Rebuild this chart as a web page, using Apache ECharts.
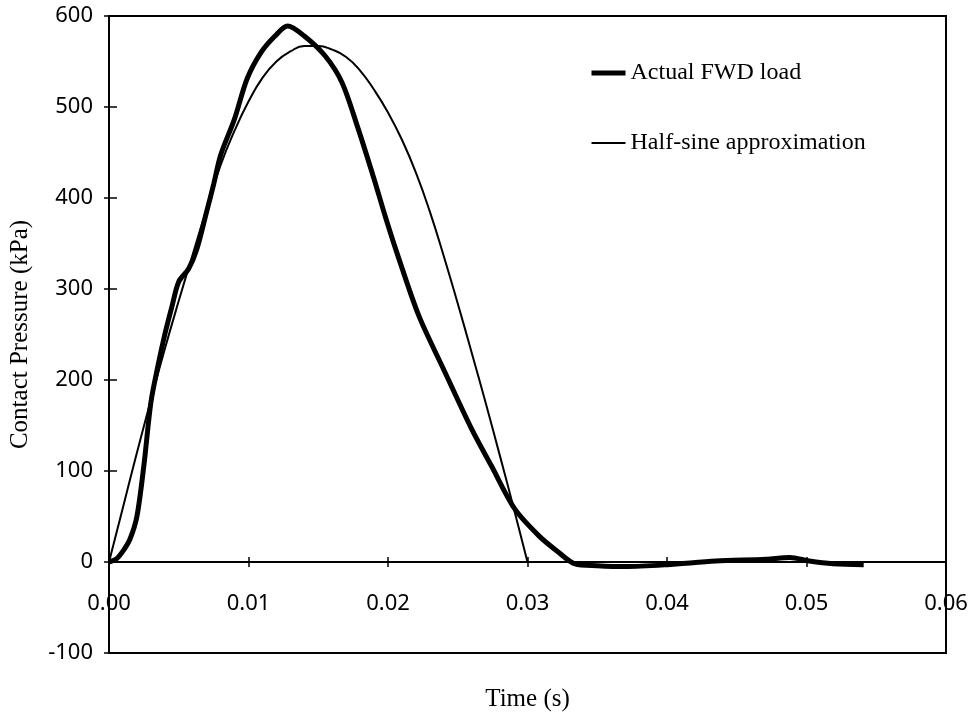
<!DOCTYPE html>
<html>
<head>
<meta charset="utf-8">
<script src="https://cdn.jsdelivr.net/npm/echarts@6/dist/echarts.min.js"></script>
<style>
  html, body { margin: 0; padding: 0; background: #fff; }
  #main { width: 976px; height: 715px; }
</style>
</head>
<body>
<div id="main"></div>
<script>
var myChart = echarts.init(document.getElementById('main'));

// actual FWD load pulse
var fwdTime = [0, 0.0005, 0.001, 0.0015, 0.002, 0.0025, 0.003, 0.0035, 0.004, 0.0045, 0.005, 0.0057, 0.0063, 0.007, 0.0075, 0.008,
  0.009, 0.0099, 0.0109, 0.0119, 0.0128, 0.014, 0.0155, 0.0167, 0.0178, 0.019, 0.0198, 0.0207, 0.0222, 0.0241, 0.026, 0.0274,
  0.0291, 0.0308, 0.0322, 0.0334, 0.035, 0.037, 0.04, 0.0435, 0.0471, 0.0488, 0.0502, 0.0519, 0.0541];
var fwdLoad = [0, 3, 12, 25, 50, 106, 175, 215, 250, 280, 308, 322, 344, 385, 415, 447,
  487, 531, 560, 578, 589, 578, 556, 527, 479, 421, 380, 337, 271, 208, 146, 106,
  58, 29, 11, -2, -4, -5, -3, 1, 3, 5, 1, -2, -3];

// half-sine approximation
var sineTime = [0, 0.001, 0.002, 0.003, 0.004, 0.005, 0.006, 0.007, 0.008, 0.009, 0.010, 0.011, 0.012, 0.013, 0.014, 0.015,
  0.016, 0.017, 0.018, 0.019, 0.020, 0.021, 0.022, 0.023, 0.024, 0.025, 0.026, 0.027, 0.028, 0.029, 0.030];
var sineLoad = [0, 60, 120, 178, 234, 287, 338, 388, 436, 474, 506, 532, 550, 561, 567, 567,
  563, 555, 540, 519, 494, 464, 428, 385, 336, 284, 230, 175, 118, 60, 0];

var xTicks = [0, 0.06, 0.01];   // min, max, step
var yTicks = [-100, 600, 100];

function pairs(xs, ys) {
    return xs.map(function (x, i) { return [x, ys[i]]; });
}

var serif = "'Liberation Serif', 'Times New Roman', serif";
var sans = "'Noto Sans', sans-serif";

option = {
    backgroundColor: '#fff',
    animation: false,
    grid: {
        left: 109,
        right: 30,
        top: 16,
        bottom: 62,
        outerBoundsMode: 'none',
        show: true,
        borderColor: '#000',
        borderWidth: 2
    },
    legend: {
        orient: 'vertical',
        left: 589,
        top: 61,
        padding: 0,
        itemWidth: 34,
        itemHeight: 14,
        itemGap: 46,
        textStyle: { fontFamily: serif, fontSize: 24, color: '#000' },
        data: [
            { name: 'Actual FWD load', itemStyle: { opacity: 0 }, lineStyle: { width: 5, color: '#000' } },
            { name: 'Half-sine approximation', itemStyle: { opacity: 0 }, lineStyle: { width: 2, color: '#000' } }
        ]
    },
    xAxis: [{
        type: 'value',
        min: xTicks[0],
        max: xTicks[1],
        interval: xTicks[2],
        name: 'Time (s)',
        nameLocation: 'middle',
        nameGap: 34,
        nameTextStyle: { fontFamily: serif, fontSize: 25, color: '#000' },
        axisLine: { onZero: true, onZeroAxisIndex: 0, lineStyle: { color: '#000', width: 2 } },
        axisTick: { show: true, length: 5, lineStyle: { color: '#000', width: 1.5 } },
        axisLabel: {
            margin: -60,
            fontFamily: sans,
            fontSize: 22,
            color: '#000',
            showMinLabel: true,
            showMaxLabel: true,
            formatter: function (v) { return v.toFixed(2); }
        },
        splitLine: { show: false }
    }, {
        type: 'value',
        position: 'bottom',
        min: xTicks[0],
        max: xTicks[1],
        interval: xTicks[2],
        axisLine: { onZero: true, onZeroAxisIndex: 1, lineStyle: { color: '#000', width: 2 } },
        axisTick: { show: true, inside: true, length: 5, lineStyle: { color: '#000', width: 1.5 } },
        axisLabel: { show: false },
        splitLine: { show: false }
    }],
    yAxis: [{
        type: 'value',
        min: yTicks[0],
        max: yTicks[1],
        interval: yTicks[2],
        name: 'Contact Pressure (kPa)',
        nameLocation: 'middle',
        nameGap: 76,
        nameTextStyle: { fontFamily: serif, fontSize: 25, color: '#000' },
        axisLine: { show: true, onZero: false, lineStyle: { color: '#000', width: 2 } },
        axisTick: { show: true, length: 5, lineStyle: { color: '#000', width: 1.5 } },
        axisLabel: { margin: 16, fontFamily: sans, fontSize: 22, color: '#000' },
        splitLine: { show: false }
    }, {
        type: 'value',
        position: 'left',
        offset: 0,
        min: yTicks[0],
        max: yTicks[1],
        interval: yTicks[2],
        axisLine: { show: true, onZero: false, lineStyle: { color: '#000', width: 2 } },
        axisTick: { show: true, inside: true, length: 8, lineStyle: { color: '#000', width: 1.5 } },
        axisLabel: { show: false },
        splitLine: { show: false }
    }],
    series: [{
        name: 'Actual FWD load',
        type: 'line',
        xAxisIndex: 0,
        yAxisIndex: 0,
        data: pairs(fwdTime, fwdLoad),
        smooth: 0.3,
        symbol: 'none',
        lineStyle: { color: '#000', width: 5 },
        itemStyle: { color: '#000' },
        z: 3
    }, {
        name: 'Half-sine approximation',
        type: 'line',
        xAxisIndex: 0,
        yAxisIndex: 0,
        data: pairs(sineTime, sineLoad),
        smooth: true,
        symbol: 'none',
        lineStyle: { color: '#000', width: 2 },
        itemStyle: { color: '#000' },
        z: 2
    }]
};

myChart.setOption(option);
</script>
</body>
</html>
